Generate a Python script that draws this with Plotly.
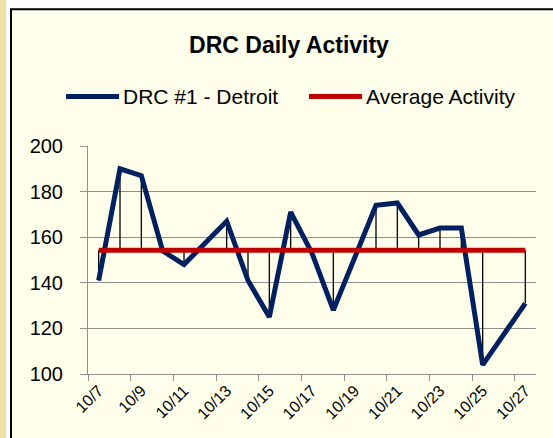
import pandas as pd
import plotly.graph_objects as go

# ---------------- data ----------------
dates = ["2008-10-07", "2008-10-08", "2008-10-09", "2008-10-10", "2008-10-11",
         "2008-10-13", "2008-10-14", "2008-10-15", "2008-10-16", "2008-10-17",
         "2008-10-18", "2008-10-20", "2008-10-21", "2008-10-22", "2008-10-23",
         "2008-10-24", "2008-10-25", "2008-10-27"]
detroit = [141, 190, 187, 154, 148, 167, 141, 125, 171, 153, 128, 174, 175,
           161, 164, 164, 104, 131]
average_activity = [154.3, 154.3, 154.3, 154.3, 154.3, 154.3, 154.3, 154.3, 154.3,
                    154.3, 154.3, 154.3, 154.3, 154.3, 154.3, 154.3, 154.3, 154.3]
tick_dates = ["2008-10-07", "2008-10-09", "2008-10-11", "2008-10-13", "2008-10-15",
              "2008-10-17", "2008-10-19", "2008-10-21", "2008-10-23", "2008-10-25",
              "2008-10-27"]
tick_labels = ["10/7", "10/9", "10/11", "10/13", "10/15", "10/17", "10/19",
               "10/21", "10/23", "10/25", "10/27"]
series_names = ["DRC #1 - Detroit", "Average Activity"]
title_text = "DRC Daily Activity"

# ---------------- styling ----------------
W, H = 553, 438
ML, MR, MT, MB = 88, 17, 146, 64
PW, PH = W - ML - MR, H - MT - MB
FONT = "Arial, 'Liberation Sans', sans-serif"
BLUE = "#002060"
RED = "#C00000"
GRID = "#8E8E8E"
BG = "#FFFFEB"


def fx(px):
    return (px - ML) / PW


def fy(py):
    return (H - MB - py) / PH


half_day = pd.Timedelta(hours=12)
slot_edges = [(pd.Timestamp(d) - half_day).strftime("%Y-%m-%d %H:%M") for d in tick_dates]
x_start = (pd.Timestamp(tick_dates[0]) - half_day).strftime("%Y-%m-%d %H:%M")
x_end = (pd.Timestamp(tick_dates[-1]) + half_day).strftime("%Y-%m-%d %H:%M")

# high-low lines between the two series
hl_x, hl_y = [], []
for d, v, a in zip(dates, detroit, average_activity):
    hl_x += [d, d, None]
    hl_y += [v, a, None]

fig = go.Figure()
fig.add_trace(go.Scatter(x=hl_x, y=hl_y, mode="lines", showlegend=False,
                         line=dict(color="black", width=1.3), hoverinfo="skip"))
fig.add_trace(go.Scatter(x=dates, y=detroit, mode="lines", name=series_names[0],
                         showlegend=False, line=dict(color=BLUE, width=5)))
fig.add_trace(go.Scatter(x=dates, y=average_activity, mode="lines", name=series_names[1],
                         showlegend=False, line=dict(color=RED, width=5)))

shapes = [
    dict(type="rect", xref="paper", yref="paper", x0=fx(-10), x1=fx(6), y0=fy(H + 10), y1=fy(-10),
         fillcolor="#EFE0A6", line=dict(width=0), layer="below"),
    dict(type="rect", xref="paper", yref="paper", x0=fx(11), x1=fx(W + 40), y0=fy(H + 40), y1=fy(9.3),
         fillcolor=BG, line=dict(color="black", width=2), layer="below"),
    # legend samples
    dict(type="line", xref="paper", yref="paper", x0=fx(66), x1=fx(119), y0=fy(96.5), y1=fy(96.5),
         line=dict(color=BLUE, width=5)),
    dict(type="line", xref="paper", yref="paper", x0=fx(309), x1=fx(362), y0=fy(96.5), y1=fy(96.5),
         line=dict(color=RED, width=5)),
]

annotations = [
    dict(text=series_names[0], xref="paper", yref="paper", x=fx(121), y=fy(96.5),
         xanchor="left", yanchor="middle", showarrow=False,
         font=dict(family=FONT, size=21, color="black")),
    dict(text=series_names[1], xref="paper", yref="paper", x=fx(364), y=fy(96.5),
         xanchor="left", yanchor="middle", showarrow=False,
         font=dict(family=FONT, size=21, color="black")),
]

fig.update_layout(
    width=W, height=H, autosize=False,
    margin=dict(l=ML, r=MR, t=MT, b=MB, pad=0),
    paper_bgcolor="white", plot_bgcolor="rgba(0,0,0,0)",
    showlegend=False,
    title=dict(text="<b>" + title_text + "</b>", x=289 / W, xref="container", xanchor="center",
               y=1 - 45 / H, yref="container", yanchor="middle",
               font=dict(family=FONT, size=23, color="black")),
    shapes=shapes, annotations=annotations,
    xaxis=dict(type="date", range=[x_start, x_end], tickmode="array",
               tickvals=tick_dates, ticktext=tick_labels, tickangle=-45, ticks="",
               showgrid=False, zeroline=False, showline=True, linecolor=GRID, linewidth=1,
               tickfont=dict(family=FONT, size=16, color="black"),
               minor=dict(tickmode="array", tickvals=slot_edges, ticks="outside", ticklen=6,
                          tickcolor=GRID, tickwidth=1, showgrid=False)),
    yaxis=dict(range=[100, 200], tick0=100, dtick=20, showgrid=True, gridcolor=GRID, gridwidth=1,
               zeroline=False, showline=True, linecolor=GRID, linewidth=1,
               ticks="outside", ticklen=7, tickcolor=GRID, tickwidth=1,
               ticklabelstandoff=13,
               tickfont=dict(family=FONT, size=20, color="black")),
)

fig.write_html("out.html", config={"displayModeBar": False},
               post_script="document.body.style.margin='0';document.body.style.overflow='hidden';")
